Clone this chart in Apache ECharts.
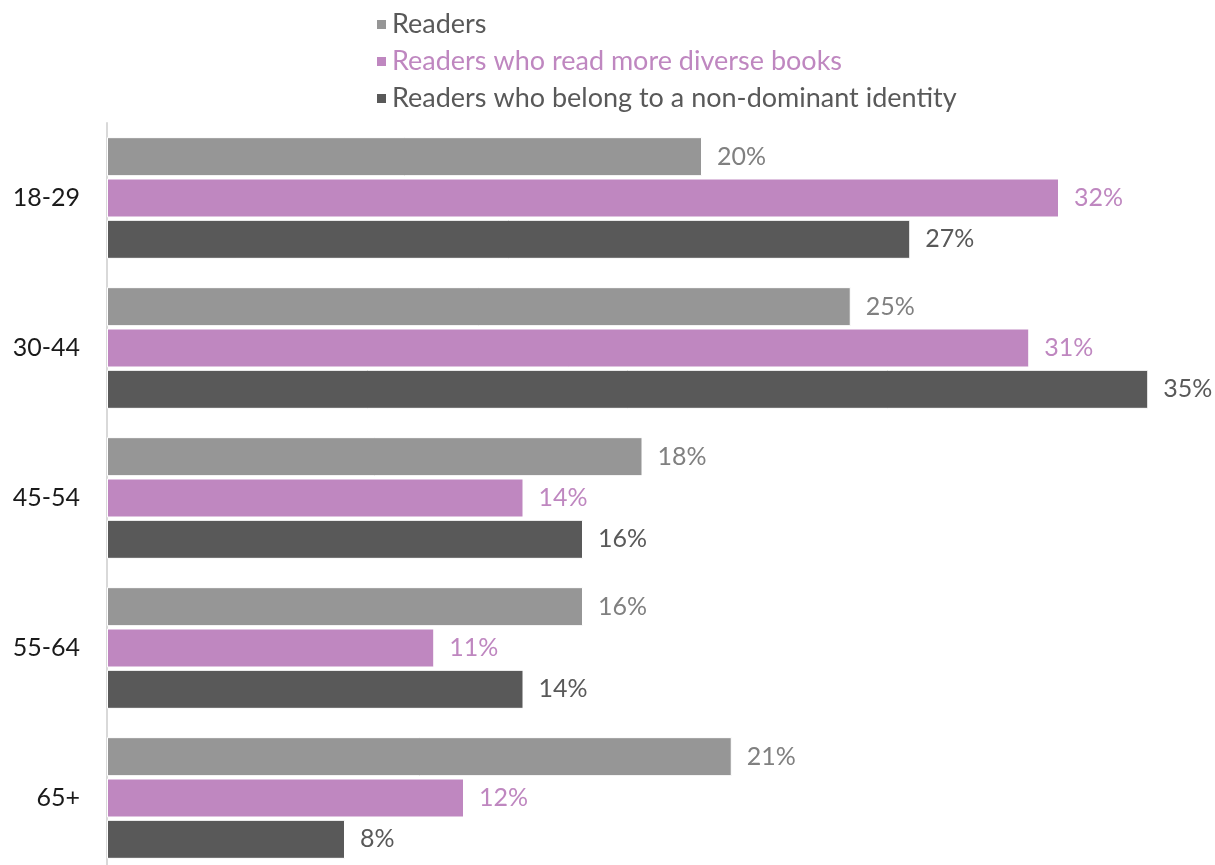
<!DOCTYPE html>
<html>
<head>
<meta charset="utf-8">
<script src="https://cdn.jsdelivr.net/npm/echarts@6/dist/echarts.min.js"></script>
<style>
  html, body { margin: 0; padding: 0; background: #fff; }
  #chart { width: 1215px; height: 865px; }
</style>
</head>
<body>
<div id="chart"></div>
<script>
// Age groups, top to bottom
const ageGroups = ['18-29', '30-44', '45-54', '55-64', '65+'];

// Share of each group (%)
const readers = [20, 25, 18, 16, 21];
const diverseReaders = [32, 31, 14, 11, 12];
const nonDominantReaders = [27, 35, 16, 14, 8];

const seriesNames = [
  'Readers',
  'Readers who read more diverse books',
  'Readers who belong to a non-dominant identity'
];

const FONT = 'Lato, "Open Sans", sans-serif';
const colors = ['#969696', '#BF87C0', '#595959'];
const labelColors = ['#808080', '#BF87C0', '#595959'];
const legendColors = ['#595959', '#BF87C0', '#595959'];

function barSeries(name, data, i) {
  return {
    name: name,
    type: 'bar',
    data: data,
    barWidth: 39,
    barGap: '6%',
    itemStyle: { color: colors[i], borderColor: '#ffffff', borderWidth: 1 },
    label: {
      show: true,
      position: 'right',
      distance: 15,
      formatter: '{c}%',
      color: labelColors[i],
      fontFamily: FONT,
      fontSize: 25
    },
    emphasis: { disabled: true },
    animation: false
  };
}

const chart = echarts.init(document.getElementById('chart'));
chart.setOption({
  backgroundColor: '#ffffff',
  legend: {
    orient: 'vertical',
    left: 370,
    top: 6,
    itemWidth: 11,
    itemHeight: 11,
    itemGap: 10,
    icon: 'rect',
    data: seriesNames.map((n, i) => ({
      name: n,
      textStyle: { color: legendColors[i] }
    })),
    textStyle: { fontFamily: FONT, fontSize: 27, lineHeight: 27 }
  },
  grid: {
    left: 107, top: 123, width: 1071, height: 750,
    containLabel: false, outerBoundsMode: 'none'
  },
  xAxis: {
    type: 'value',
    min: 0,
    max: 36,
    show: false
  },
  yAxis: {
    type: 'category',
    data: ageGroups,
    inverse: true,
    axisLine: { show: true, lineStyle: { color: '#d9d9d9', width: 2 } },
    axisTick: { show: false },
    axisLabel: { color: '#1a1a1a', fontFamily: FONT, fontSize: 25, margin: 27 }
  },
  series: [
    barSeries(seriesNames[0], readers, 0),
    barSeries(seriesNames[1], diverseReaders, 1),
    barSeries(seriesNames[2], nonDominantReaders, 2)
  ]
});
</script>
</body>
</html>
